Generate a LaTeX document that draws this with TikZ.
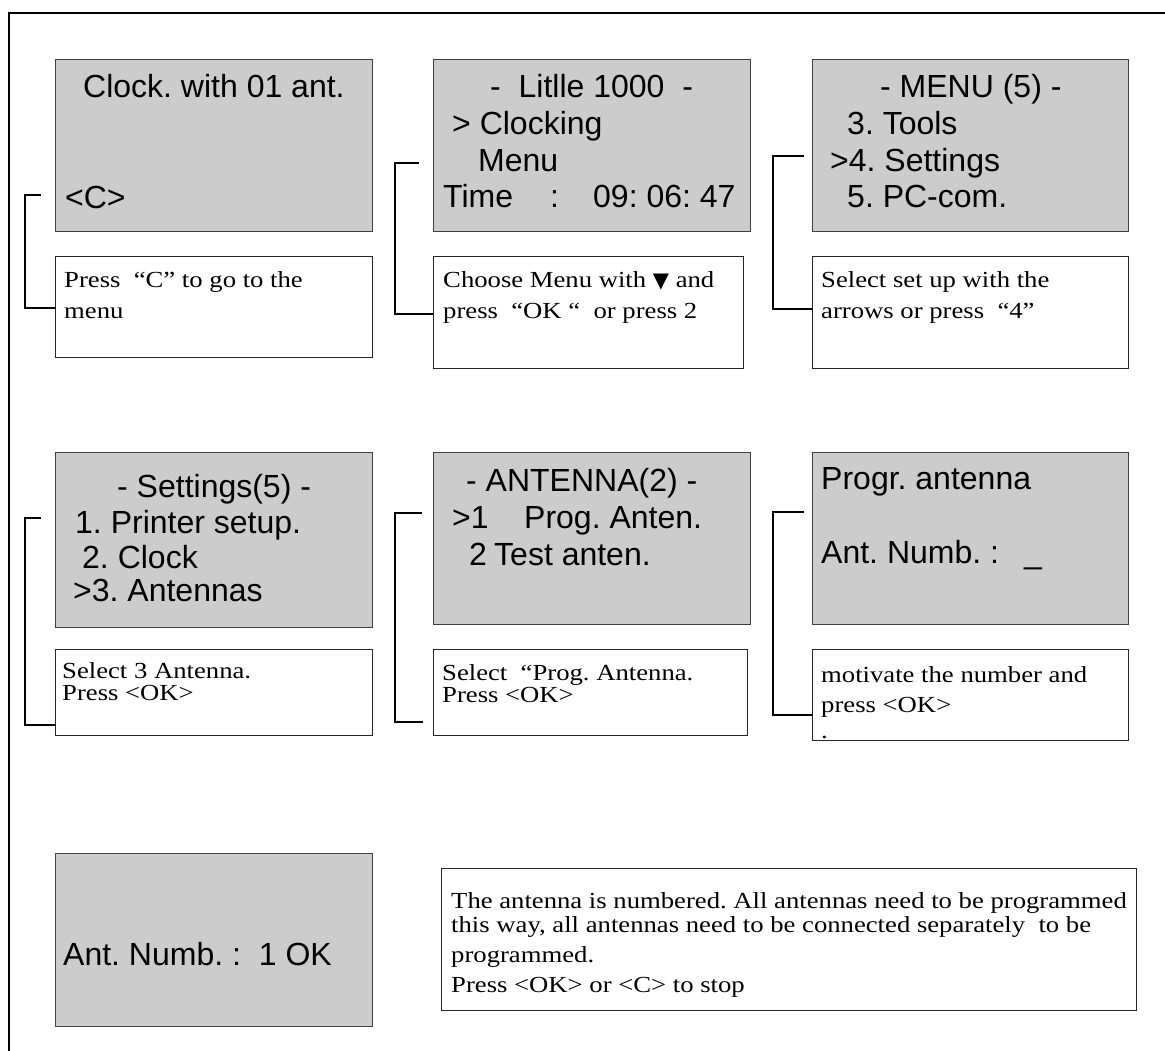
\documentclass[tikz,border=0pt]{standalone}
\usepackage{fontspec}
\setmainfont{Liberation Serif}
\newfontfamily\lcdfont{Liberation Sans}
\newfontfamily\notefont[FakeStretch=1.16]{Liberation Serif}
\newfontfamily\symfont{DejaVu Sans}
\definecolor{lcdgray}{HTML}{CCCCCC}
\frenchspacing
\begin{document}
\begin{tikzpicture}[x=1pt,y=-1pt,
  lcd/.style={draw=black!75, fill=lcdgray, line width=1.2pt, anchor=north west, inner sep=0pt},
  note/.style={draw=black!85, fill=white, line width=1.2pt, anchor=north west, inner sep=0pt},
  lcdtext/.style={anchor=base west, inner sep=0pt, font=\lcdfont\fontsize{32}{37}\selectfont},
  notetext/.style={anchor=base west, inner sep=0pt, font=\notefont\fontsize{23}{26}\selectfont},
  link/.style={draw=black, line width=1.4pt},
  frameline/.style={draw=black, line width=2.6pt}]
\useasboundingbox (0,0) rectangle (1165,1050);
\draw[frameline] (9,1060) -- (9,13) -- (1170,13);

% LCD screens
\node[lcd, minimum width=317pt, minimum height=172pt] (s1) at (55,59) {};
\node[lcd, minimum width=317pt, minimum height=172pt] (s2) at (433,59) {};
\node[lcd, minimum width=316pt, minimum height=172pt] (s3) at (812,59) {};
\node[lcd, minimum width=317pt, minimum height=175pt] (s4) at (55,452) {};
\node[lcd, minimum width=317pt, minimum height=172pt] (s5) at (433,452) {};
\node[lcd, minimum width=316pt, minimum height=172pt] (s6) at (812,452) {};
\node[lcd, minimum width=317pt, minimum height=173pt] (s7) at (55,853) {};

% note boxes
\node[note, minimum width=317pt, minimum height=101pt] (n1) at (55,256) {};
\node[note, minimum width=310pt, minimum height=112pt] (n2) at (433,256) {};
\node[note, minimum width=316pt, minimum height=112pt] (n3) at (812,256) {};
\node[note, minimum width=317pt, minimum height=86pt] (n4) at (55,649) {};
\node[note, minimum width=314pt, minimum height=86pt] (n5) at (433,649) {};
\node[note, minimum width=316pt, minimum height=91pt] (n6) at (812,649) {};
\node[note, minimum width=695pt, minimum height=142pt] (n7) at (441,868) {};

% LCD texts
\node[lcdtext] (s1a) at (83,97) {Clock. with 01 ant.};
\node[lcdtext] (s1b) at (65,208) {<C>};

\node[lcdtext] (s2a) at (490,97) {-\ \ Litlle 1000\ \ -};
\node[lcdtext] (s2b) at (452,134) {> Clocking};
\node[lcdtext] (s2c) at (478,171) {Menu};
\node[lcdtext] (s2d) at (443,207) {Time};
\node[lcdtext] (s2e) at (550,207) {:};
\node[lcdtext] (s2f) at (593,207) {09: 06: 47};

\node[lcdtext] (s3a) at (880,97) {- MENU (5) -};
\node[lcdtext] (s3b) at (847,134) {3. Tools};
\node[lcdtext] (s3c) at (830,171) {>4. Settings};
\node[lcdtext] (s3d) at (847,207) {5. PC-com.};

\node[lcdtext] (s4a) at (117,497) {- Settings(5) -};
\node[lcdtext] (s4b) at (75,533) {1. Printer setup.};
\node[lcdtext] (s4c) at (82,568) {2. Clock};
\node[lcdtext] (s4d) at (73,601) {>3. Antennas};

\node[lcdtext] (s5a) at (466,491) {- ANTENNA(2) -};
\node[lcdtext] (s5b) at (452,528) {>1};
\node[lcdtext] (s5c) at (524,528) {Prog. Anten.};
\node[lcdtext] (s5d) at (469,565) {2};
\node[lcdtext] (s5e) at (494,565) {Test anten.};

\node[lcdtext] (s6a) at (821,489) {Progr. antenna};
\node[lcdtext] (s6b) at (821,563) {Ant. Numb. :};
\node[lcdtext] (s6c) at (1024,563) {\_};

\node[lcdtext] (s7a) at (63,965) {Ant. Numb. :\ \ 1 OK};

% note texts
\node[notetext] (n1a) at (64,287) {Press\ \ “C” to go to the};
\node[notetext] (n1b) at (64,318) {menu};

\node[notetext] (n2a) at (443,287) {Choose Menu with {\symfont\fontsize{21}{21}\selectfont ▼} and};
\node[notetext] (n2b) at (443,318) {press\ \ “OK “\ \ or press 2};

\node[notetext] (n3a) at (821,287) {Select set up with the};
\node[notetext] (n3b) at (821,318) {arrows or press\ \ “4”};

\node[notetext] (n4a) at (62,678) {Select 3 Antenna.};
\node[notetext] (n4b) at (62,700) {Press <OK>};

\node[notetext] (n5a) at (442,680) {Select\ \ “Prog. Antenna.};
\node[notetext] (n5b) at (442,702) {Press <OK>};

\node[notetext] (n6a) at (821,682) {motivate the number and};
\node[notetext] (n6b) at (821,712) {press <OK>};
\node[notetext] (n6c) at (821,738) {.};

\node[notetext] (n7a) at (451,908) {The antenna is numbered. All antennas need to be programmed};
\node[notetext] (n7b) at (451,932) {this way, all antennas need to be connected separately\ \ to be};
\node[notetext] (n7c) at (451,962) {programmed.};
\node[notetext] (n7d) at (451,992) {Press <OK> or <C> to stop};

% connectors
\coordinate (k1) at (41,195);
\coordinate (k2) at (419,163);
\coordinate (k3) at (804,156);
\coordinate (k4) at (41,518);
\coordinate (k5) at (422,513);
\coordinate (k5e) at (423,722);
\coordinate (k6) at (804,512);
\draw[link] (k1) -- (25,195) |- (n1.west |- 0,308);
\draw[link] (k2) -- (395,163) |- (n2.west |- 0,314);
\draw[link] (k3) -- (773,156) |- (n3.west |- 0,309);
\draw[link] (k4) -- (25,518) |- (n4.west |- 0,725);
\draw[link] (k5) -- (395,513) |- (k5e);
\draw[link] (k6) -- (773,512) |- (n6.west |- 0,715);
\end{tikzpicture}
\end{document}
